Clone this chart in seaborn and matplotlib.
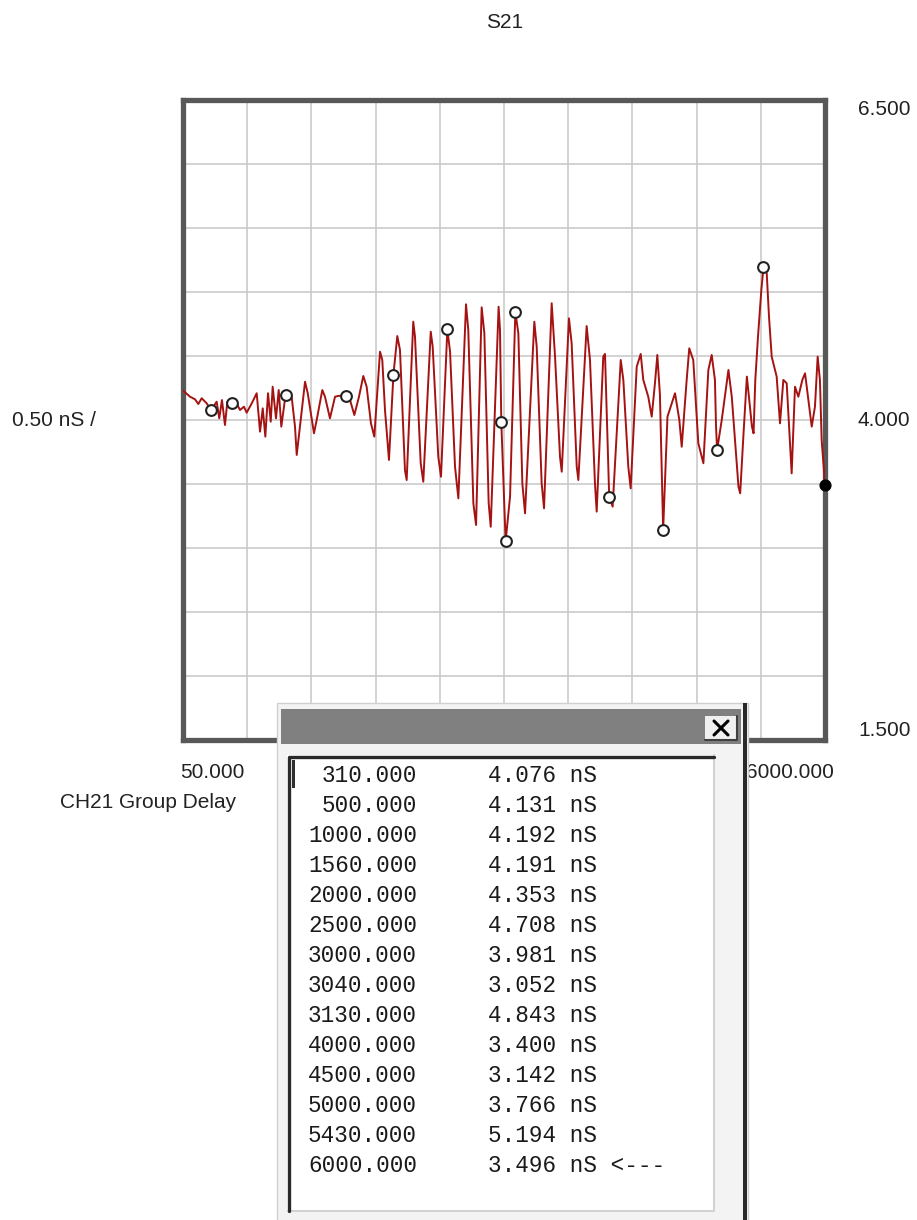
import matplotlib
matplotlib.use("Agg")
import matplotlib.pyplot as plt
import matplotlib.transforms as mtransforms
from matplotlib.patches import Rectangle
from matplotlib.lines import Line2D
import numpy as np
import seaborn as sns

# ---- measured group delay trace (MHz, nS) ----
trace_freq = [
    50, 115, 161, 192, 223, 270, 310, 362, 386, 411, 439, 461, 500, 532, 578,
    615, 640, 687, 733, 764, 789, 813, 838, 863, 881, 912, 937, 961, 1000,
    1057, 1088, 1104, 1181, 1206, 1264, 1289, 1341, 1366, 1412, 1459, 1489,
    1560, 1598, 1638, 1681, 1721, 1752, 1792, 1823, 1876, 1897, 1922, 1959,
    2000, 2036, 2061, 2107, 2123, 2184, 2200, 2253, 2277, 2346, 2364, 2416,
    2441, 2500, 2525, 2571, 2602, 2673, 2694, 2741, 2766, 2818, 2843, 2883,
    2902, 2975, 2988, 3000, 3040, 3081, 3130, 3158, 3195, 3220, 3306, 3328,
    3374, 3396, 3467, 3498, 3544, 3560, 3627, 3652, 3699, 3714, 3791, 3822,
    3868, 3884, 3945, 3961, 4000, 4032, 4107, 4131, 4177, 4199, 4255, 4292,
    4316, 4362, 4394, 4424, 4446, 4470, 4500, 4540, 4610, 4650, 4672, 4718,
    4742, 4779, 4826, 4873, 4919, 4950, 4980, 4990, 5000, 5043, 5105, 5136,
    5198, 5214, 5245, 5276, 5323, 5338, 5354, 5379, 5410, 5430, 5460, 5481,
    5506, 5552, 5583, 5614, 5645, 5691, 5722, 5753, 5790, 5815, 5877, 5907,
    5932, 5953, 5969, 6000,
]
trace_delay = [
    4.230, 4.182, 4.162, 4.125, 4.170, 4.130, 4.076, 4.143, 4.013, 4.156,
    3.961, 4.143, 4.131, 4.156, 4.078, 4.104, 4.057, 4.130, 4.209, 3.909,
    4.091, 3.870, 4.209, 3.987, 4.260, 4.013, 4.234, 3.948, 4.192,
    4.182, 3.948, 3.727, 4.299, 4.209, 3.896, 4.000, 4.234, 4.182, 4.013,
    4.182, 4.188, 4.191, 4.156, 4.039, 4.182, 4.344, 4.260, 3.974, 3.870,
    4.534, 4.469, 4.078, 3.688, 4.353, 4.656, 4.547, 3.609, 3.531, 4.768,
    4.651, 3.662, 3.518, 4.690, 4.573, 3.713, 3.557, 4.708, 4.534, 3.635,
    3.388, 4.904, 4.703, 3.349, 3.180, 4.880, 4.677, 3.349, 3.166, 4.885,
    4.700, 3.981, 3.052, 3.401, 4.843, 4.677, 3.505, 3.271, 4.768, 4.573,
    3.505, 3.310, 4.912, 4.495, 3.713, 3.596, 4.794, 4.599, 3.635, 3.531,
    4.734, 4.469, 3.505, 3.284, 4.495, 4.516, 3.400, 3.323, 4.469, 4.313,
    3.635, 3.466, 4.416, 4.516, 4.313, 4.182, 4.026, 4.287, 4.508, 4.200,
    3.142, 4.026, 4.209, 4.000, 3.791, 4.313, 4.560, 4.469, 3.818, 3.662,
    4.391, 4.508, 4.313, 3.950, 3.766, 4.000, 4.391, 4.182, 3.479, 3.427,
    3.896, 4.339, 3.948, 3.896, 4.313, 4.651, 5.016, 5.194, 5.146, 4.807,
    4.495, 4.339, 3.974, 4.313, 4.287, 3.583, 4.260, 4.182, 4.313, 4.365,
    3.948, 4.104, 4.495, 4.313, 3.844, 3.496,
]

# ---- marker readout ----
marker_freq = [310, 500, 1000, 1560, 2000, 2500, 3000, 3040, 3130,
               4000, 4500, 5000, 5430, 6000]
marker_delay = [4.076, 4.131, 4.192, 4.191, 4.353, 4.708, 3.981, 3.052,
                4.843, 3.400, 3.142, 3.766, 5.194, 3.496]
active_marker = 13

# ---- scale / annotation text ----
title_text = "S21"
trace_name = "CH21 Group Delay"
scale_text = "0.50 nS /"
start_label = "50.000"
stop_label = "6000.000"
ref_values = [6.5, 4.0, 1.5]
ref_labels = ["6.500", "4.000", "1.500"]

W, H = 917, 1220
sns.set_style("white")
plt.rcParams["font.family"] = ["Liberation Sans", "DejaVu Sans"]

fig = plt.figure(figsize=(W / 100, H / 100), dpi=100)
fig.patch.set_facecolor("white")


def fig_box(x0, y0, x1, y1):
    """Pixel box (top-left origin) -> figure-fraction rectangle args."""
    return (x0 / W, 1 - y1 / H), (x1 - x0) / W, (y1 - y0) / H


def fx(x):
    return x / W


def fy(y):
    return 1 - y / H


ax = fig.add_axes([183 / W, 1 - 740 / H, 642 / W, 640 / H])
ax.set_xlim(50, 6000)
ax.set_ylim(1.5, 6.5)
ax.set_xticks(np.linspace(50, 6000, 11))
ax.set_yticks(np.linspace(1.5, 6.5, 11))
ax.tick_params(length=0, labelleft=False, labelbottom=False)
ax.grid(True, color="#c6c6c6", linewidth=1.1)
for sp in ax.spines.values():
    sp.set_visible(True)
    sp.set_color("#585858")
    sp.set_linewidth(3.8)
ax.set_xlabel("")
ax.set_ylabel("")

sns.lineplot(x=trace_freq, y=trace_delay, ax=ax, color="#a51212",
             linewidth=1.4, sort=False, estimator=None, zorder=3)

passive = [i for i in range(len(marker_freq)) if i != active_marker]
sns.scatterplot(x=[marker_freq[i] for i in passive],
                y=[marker_delay[i] for i in passive], ax=ax,
                marker="o", s=60, facecolor="white", edgecolor="#222222",
                linewidth=1.5, zorder=5, clip_on=False)
sns.scatterplot(x=[marker_freq[active_marker]],
                y=[marker_delay[active_marker]], ax=ax,
                marker="o", s=60, color="black", edgecolor="black",
                linewidth=1.0, zorder=6, clip_on=False)

# reference values on the right edge
blend = mtransforms.blended_transform_factory(ax.transAxes, ax.transData)
for v, lab in zip(ref_values, ref_labels):
    va = "top" if v == max(ref_values) else ("bottom" if v == min(ref_values) else "center")
    ax.text(1.0514, v, lab, transform=blend, ha="left", va=va,
            fontsize=15, color="#222222")

ax.text(-0.2664, 4.0, scale_text, transform=blend, ha="left", va="center",
        fontsize=15, color="#222222")

fig.text(0.5507, fy(23), title_text, ha="center", va="center",
         fontsize=15, color="#222222")
fig.text(fx(180), fy(772), start_label, ha="left", va="center",
         fontsize=15, color="#222222")
fig.text(fx(834), fy(772), stop_label, ha="right", va="center",
         fontsize=15, color="#222222", zorder=2)
fig.text(fx(60), fy(803), trace_name, ha="left", va="center",
         fontsize=15, color="#222222")

# ---- marker table window ----
Z = 20
(xy, w, h) = fig_box(277, 703, 748, 1222)
fig.add_artist(Rectangle(xy, w, h, transform=fig.transFigure,
                         facecolor="#f3f3f3", edgecolor="#d0d0d0",
                         linewidth=1.0, zorder=Z))
(xy, w, h) = fig_box(743, 703, 747, 1222)
fig.add_artist(Rectangle(xy, w, h, transform=fig.transFigure,
                         facecolor="#2a2a2a", edgecolor="none", zorder=Z + 1))
(xy, w, h) = fig_box(281, 709, 741, 744)
fig.add_artist(Rectangle(xy, w, h, transform=fig.transFigure,
                         facecolor="#808080", edgecolor="none", zorder=Z + 1))
# close button
(xy, w, h) = fig_box(705, 716, 737, 740)
fig.add_artist(Rectangle(xy, w, h, transform=fig.transFigure,
                         facecolor="#f0f0f0", edgecolor="none", zorder=Z + 2))
fig.add_artist(Line2D([fx(705), fx(737), fx(737)], [fy(740), fy(740), fy(716)],
                      transform=fig.transFigure, color="#404040",
                      linewidth=1.5, zorder=Z + 3))
fig.add_artist(Line2D([fx(714), fx(728)], [fy(721), fy(735)],
                      transform=fig.transFigure, color="black",
                      linewidth=2.2, zorder=Z + 3))
fig.add_artist(Line2D([fx(714), fx(728)], [fy(735), fy(721)],
                      transform=fig.transFigure, color="black",
                      linewidth=2.2, zorder=Z + 3))
# list box
(xy, w, h) = fig_box(287, 755, 714, 1211)
fig.add_artist(Rectangle(xy, w, h, transform=fig.transFigure,
                         facecolor="white", edgecolor="none", zorder=Z + 1))
fig.add_artist(Line2D([fx(714), fx(714), fx(288)], [fy(755), fy(1211), fy(1211)],
                      transform=fig.transFigure, color="#d2d2d2",
                      linewidth=1.5, zorder=Z + 2))
fig.add_artist(Line2D([fx(288.5), fx(288.5), fx(714)], [fy(1211), fy(756.5), fy(756.5)],
                      transform=fig.transFigure, color="#2a2a2a",
                      linewidth=2.4, zorder=Z + 3))
(xy, w, h) = fig_box(292, 760, 295, 788)
fig.add_artist(Rectangle(xy, w, h, transform=fig.transFigure,
                         facecolor="#303030", edgecolor="none", zorder=Z + 3))

row0, row_step = 775, 30
for i, (f, v) in enumerate(zip(marker_freq, marker_delay)):
    y = row0 + i * row_step
    fig.text(fx(417), fy(y), f"{f:.3f}", ha="right", va="center",
             family="Liberation Mono", fontsize=16.3, color="#1a1a1a",
             zorder=Z + 4)
    label = f"{v:.3f} nS" + (" <---" if i == active_marker else "")
    fig.text(fx(488), fy(y), label, ha="left", va="center",
             family="Liberation Mono", fontsize=16.3, color="#1a1a1a",
             zorder=Z + 4)

fig.savefig("out.png", dpi=100, facecolor="white")
